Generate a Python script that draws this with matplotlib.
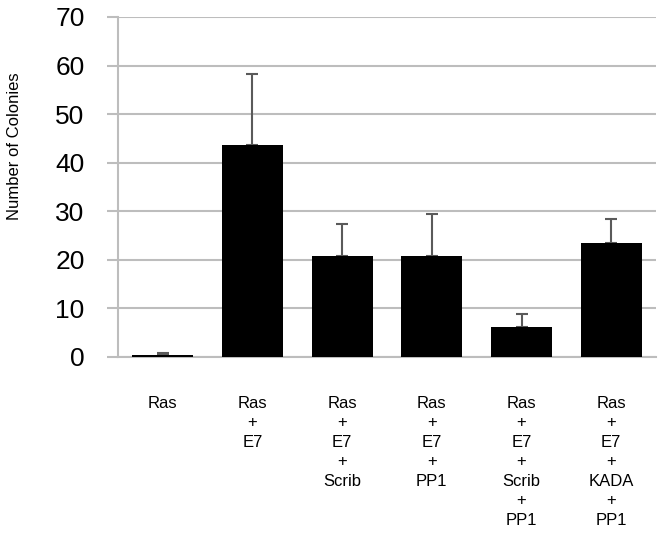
import matplotlib
matplotlib.use("Agg")
import matplotlib.pyplot as plt

categories = ["Ras", "Ras\n+\nE7", "Ras\n+\nE7\n+\nScrib", "Ras\n+\nE7\n+\nPP1",
              "Ras\n+\nE7\n+\nScrib\n+\nPP1", "Ras\n+\nE7\n+\nKADA\n+\nPP1"]
values = [0.4, 43.6, 20.8, 20.8, 6.2, 23.5]
errors = [0.5, 14.7, 6.6, 8.6, 2.65, 4.9]
yticks = [0, 10, 20, 30, 40, 50, 60, 70]

plt.rcParams['font.family'] = ['Liberation Sans', 'DejaVu Sans']

fig = plt.figure(figsize=(6.64, 5.37), dpi=100)
ax = fig.add_axes([118/664, 1-357/537, 538/664, 340/537])

x = list(range(len(categories)))
ax.bar(x, values, width=0.68, color='black', zorder=3)
ax.errorbar(x, values, yerr=[[0]*len(errors), errors], fmt='none',
            ecolor='#5a5a5a', elinewidth=1.5, capsize=4, capthick=1.5, zorder=2)

ax.set_xlim(-0.5, 5.5)
ax.set_ylim(0, 70)
ax.set_yticks(yticks)
ax.set_yticklabels([str(t) for t in yticks], fontsize=19)
ax.yaxis.grid(True, color='#bdbdbd', linewidth=1.5, zorder=0)
ax.set_axisbelow(True)
ax.tick_params(axis='y', length=8, width=1.5, color='#bdbdbd', pad=16)
ax.set_xticks(x)
ax.set_xticklabels(categories, fontsize=12, linespacing=1.37, va='top')
ax.tick_params(axis='x', length=0, pad=28)
for s in ['top', 'right']:
    ax.spines[s].set_visible(False)
for s in ['left', 'bottom']:
    ax.spines[s].set_color('#bdbdbd')
    ax.spines[s].set_linewidth(1.5)

fig.text(15/664, 1-146/537, "Number of Colonies", rotation=90, fontsize=12,
         ha='center', va='center')

fig.savefig("out.png", dpi=100)
